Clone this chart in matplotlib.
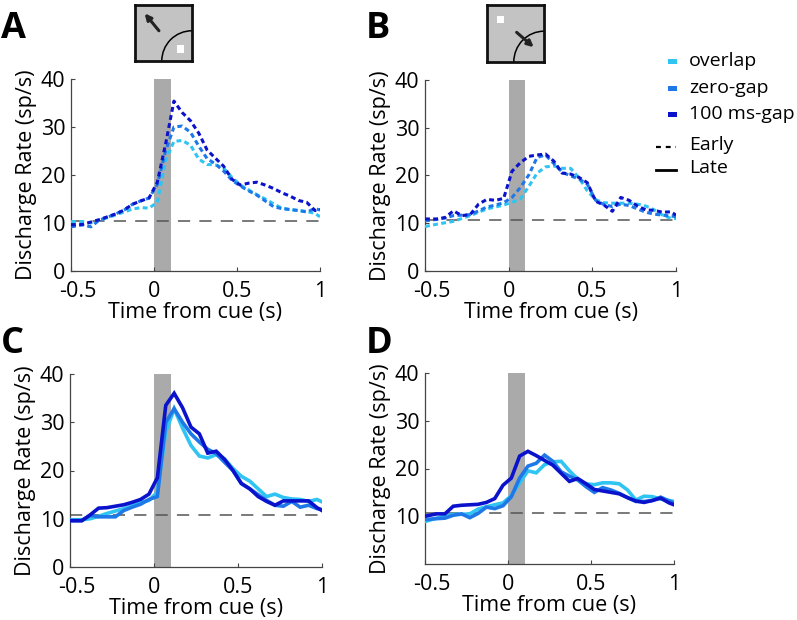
import numpy as np
import matplotlib
matplotlib.use('Agg')
import matplotlib.pyplot as plt
import matplotlib.transforms as mtransforms
from matplotlib.patches import Rectangle, Arc
from matplotlib.lines import Line2D

plt.rcParams['font.family'] = ['Open Sans', 'DejaVu Sans']
plt.rcParams['axes.unicode_minus'] = False

# time bins (s) shared by every curve
t = [-0.5, -0.43, -0.38, -0.33, -0.28, -0.23, -0.18, -0.13, -0.08, -0.03, 0.02,
     0.07, 0.12, 0.17, 0.22, 0.27, 0.32, 0.37, 0.42, 0.47, 0.52, 0.57, 0.62,
     0.67, 0.72, 0.77, 0.82, 0.87, 0.92, 0.97, 1.0]

conditions = ['overlap', 'zero-gap', '100 ms-gap']
colors = ['#2fc4f2', '#1f78e8', '#0b12cc']

# A: early, target out of RF
a_overlap = [10.3, 10.3, 10.0, 10.6, 11.1, 11.7, 12.3, 12.9, 13.2, 13.1, 14.3, 23.0, 27.0, 27.2, 26.2, 23.3,
             22.2, 22.1, 21.4, 19.5, 17.9, 16.9, 15.9, 15.0, 14.0, 13.1, 12.8, 12.6, 12.4, 12.0, 11.3]
a_zero = [9.2, 9.6, 9.2, 10.6, 11.2, 11.9, 12.7, 13.9, 14.6, 15.2, 18.0, 25.0, 30.0, 30.2, 28.9, 26.0,
          23.4, 22.3, 20.8, 18.9, 17.7, 16.7, 15.8, 14.6, 13.4, 13.0, 12.8, 12.6, 12.3, 13.0, 12.7]
a_gap = [9.6, 9.7, 10.2, 10.7, 11.3, 11.9, 12.7, 13.9, 14.6, 15.2, 18.5, 26.5, 35.4, 33.0, 31.3, 28.7,
         25.2, 23.5, 21.8, 19.1, 17.9, 18.3, 18.5, 17.9, 17.2, 16.3, 15.6, 14.7, 14.3, 12.6, 12.8]

# B: early, target in RF
b_overlap = [9.3, 9.8, 10.1, 10.4, 11.0, 11.6, 12.3, 13.0, 13.4, 13.8, 14.4, 15.1, 17.7, 20.5, 21.8, 22.0,
             21.5, 21.5, 19.5, 16.8, 14.9, 14.3, 14.2, 14.2, 14.2, 14.0, 13.6, 12.8, 11.7, 11.0, 11.0]
b_zero = [10.5, 10.8, 11.1, 11.6, 11.7, 11.8, 12.6, 13.4, 13.8, 14.3, 15.4, 17.5, 20.1, 23.8, 24.3, 22.5,
          20.7, 19.9, 19.3, 18.2, 14.8, 13.9, 13.5, 14.0, 13.7, 13.0, 12.3, 11.9, 11.7, 11.5, 11.4]
b_gap = [10.9, 10.9, 11.2, 12.6, 11.6, 11.8, 14.0, 15.0, 14.8, 15.2, 20.9, 22.7, 24.0, 24.3, 24.5, 23.0,
         20.5, 20.3, 19.6, 18.5, 14.6, 13.8, 12.5, 15.4, 14.8, 13.6, 12.8, 12.7, 12.3, 12.4, 11.7]

# C: late, target out of RF
c_overlap = [9.8, 9.8, 10.0, 10.5, 11.1, 11.6, 12.1, 12.7, 13.4, 13.8, 15.5, 28.0, 32.8, 28.8, 25.2, 23.0,
             22.6, 23.3, 22.4, 20.4, 18.8, 17.8, 16.2, 14.6, 15.1, 14.4, 14.1, 14.0, 13.6, 14.0, 13.5]
c_zero = [9.6, 9.6, 10.7, 10.4, 10.4, 10.4, 11.7, 12.4, 13.0, 14.0, 14.6, 30.0, 32.8, 30.0, 27.6, 25.9,
          24.4, 23.5, 21.7, 20.0, 17.3, 16.2, 15.0, 13.8, 12.8, 12.6, 13.6, 12.4, 12.8, 12.1, 11.9]
c_gap = [9.6, 9.6, 10.8, 12.2, 12.3, 12.6, 12.9, 13.4, 14.0, 15.1, 18.5, 33.5, 36.0, 33.0, 29.0, 27.6,
         23.6, 24.0, 22.3, 20.0, 17.3, 16.2, 14.6, 13.6, 12.8, 13.7, 13.7, 13.7, 13.7, 12.3, 11.7]

# D: late, target in RF
d_overlap = [8.9, 9.6, 10.0, 10.4, 10.4, 10.5, 11.5, 12.0, 12.4, 12.8, 14.3, 17.0, 19.5, 19.1, 20.8, 21.4,
             21.5, 19.5, 17.8, 16.8, 16.6, 17.0, 17.0, 16.8, 15.5, 13.4, 14.2, 14.1, 13.6, 13.3, 13.1]
d_zero = [9.3, 9.5, 9.6, 10.2, 10.5, 9.7, 10.6, 11.9, 11.6, 12.2, 14.1, 18.0, 20.5, 21.1, 22.8, 21.5,
          19.3, 18.4, 17.6, 16.2, 15.0, 16.0, 15.5, 14.8, 13.9, 13.1, 13.1, 13.3, 14.0, 13.2, 12.8]
d_gap = [10.0, 10.5, 10.5, 12.1, 12.3, 12.4, 12.5, 12.9, 13.7, 16.5, 18.0, 22.6, 23.6, 22.7, 21.7, 20.7,
         19.0, 17.3, 17.9, 16.8, 15.6, 15.3, 15.0, 14.7, 13.9, 13.2, 12.9, 13.3, 13.8, 12.8, 12.4]

baselines = [10.5, 10.7, 10.8, 10.7]

W, H = 797, 620
fig = plt.figure(figsize=(W / 100, H / 100), dpi=100)


def px_axes(left, top, right, bottom):
    return fig.add_axes([left / W, 1 - bottom / H, (right - left) / W, (bottom - top) / H])


panels = [
    ('A', (71, 79, 320, 271), [a_overlap, a_zero, a_gap], 'early', baselines[0], True),
    ('B', (425, 80, 676, 271), [b_overlap, b_zero, b_gap], 'early', baselines[1], True),
    ('C', (70, 374, 322, 567), [c_overlap, c_zero, c_gap], 'late', baselines[2], True),
    ('D', (425, 373, 674, 564), [d_overlap, d_zero, d_gap], 'late', baselines[3], False),
]
letter_pos = {'A': (1, 38), 'B': (366, 38), 'C': (1, 353), 'D': (366, 353)}

for name, box, series, epoch, base, show_zero in panels:
    ax = px_axes(*box)
    ax.axvspan(0, 0.1, color='#aaaaaa', lw=0, zorder=1)
    ax.axhline(base, color='#555555', lw=1.1, dashes=(8, 6), zorder=2)
    for vals, col in zip(series, colors):
        if epoch == 'early':
            ax.plot(t, vals, color=col, lw=2.2, dashes=(1.6, 1.1), zorder=3)
        else:
            ax.plot(t, vals, color=col, lw=2.6, solid_joinstyle='miter', zorder=3)
    ax.set_xlim(-0.5, 1.0)
    ax.set_ylim(0, 40)
    ax.set_xticks([-0.5, 0, 0.5, 1])
    ax.set_xticklabels(['-0.5', '0', '0.5', '1'])
    if show_zero:
        ax.set_yticks([0, 10, 20, 30, 40])
    else:
        ax.set_yticks([10, 20, 30, 40])
    ax.tick_params(direction='in', length=3, width=0.8, color='#444444', labelsize=15.5)
    ax.tick_params(axis='x', pad=7)
    ax.tick_params(axis='y', pad=4)
    for s in ['top', 'right']:
        ax.spines[s].set_visible(False)
    for s in ['left', 'bottom']:
        ax.spines[s].set_color('#444444')
        ax.spines[s].set_linewidth(0.9)
    ax.set_xlabel('Time from cue (s)', fontsize=15.5, labelpad=0)
    ax.set_ylabel('Discharge Rate (sp/s)', fontsize=15.5, labelpad=3)
    # the first x label sits a little right of its tick, as in the original
    lab0 = ax.xaxis.get_major_ticks()[0].label1
    lab0.set_transform(lab0.get_transform() + mtransforms.ScaledTranslation(0.07, 0, fig.dpi_scale_trans))
    lx, ly = letter_pos[name]
    fig.text(lx / W, 1 - ly / H, name, fontsize=26, fontweight='bold', ha='left', va='baseline')


# small task cartoons above A and B
def cartoon(left, top, right, bottom, arrow_from, arrow_to, square_xy):
    ax = px_axes(left, top, right, bottom)
    ax.set_facecolor('#c3c3c3')
    ax.set_xlim(0, 1)
    ax.set_ylim(0, 1)
    ax.set_xticks([])
    ax.set_yticks([])
    for s in ax.spines.values():
        s.set_linewidth(2)
        s.set_color('#111111')
    ax.add_patch(Arc((1, 0), 1.06, 1.08, theta1=90, theta2=180, color='black', lw=1.1))
    ax.add_patch(Rectangle((square_xy[0] - 0.06, square_xy[1] - 0.06), 0.13, 0.13,
                           facecolor='white', edgecolor='none'))
    ax.annotate('', xy=arrow_to, xytext=arrow_from,
                arrowprops=dict(arrowstyle='-|>', color='#222222', lw=2.2, mutation_scale=9,
                                shrinkA=0, shrinkB=0))


cartoon(135, 5, 192, 61, (0.42, 0.54), (0.17, 0.85), (0.79, 0.21))
cartoon(487, 5, 544, 62, (0.52, 0.52), (0.82, 0.26), (0.23, 0.74))

# legend drawn in figure pixels
leg = fig.add_axes([0, 0, 1, 1], facecolor='none')
leg.set_xlim(0, W)
leg.set_ylim(H, 0)
leg.axis('off')
for lab, col, y in zip(conditions, colors, [61, 88, 114]):
    leg.add_patch(Rectangle((668, y - 2.5), 9, 5, facecolor=col, edgecolor='none'))
    leg.text(689, y, lab, fontsize=14, va='center', ha='left')
leg.add_line(Line2D([656, 676], [147, 147], color='black', lw=1.6, dashes=(2.2, 2.2)))
leg.text(689, 145, 'Early', fontsize=14, va='center', ha='left')
leg.add_line(Line2D([656, 676], [170, 170], color='black', lw=2))
leg.text(689, 168, 'Late', fontsize=14, va='center', ha='left')

fig.savefig('out.png', dpi=100)
